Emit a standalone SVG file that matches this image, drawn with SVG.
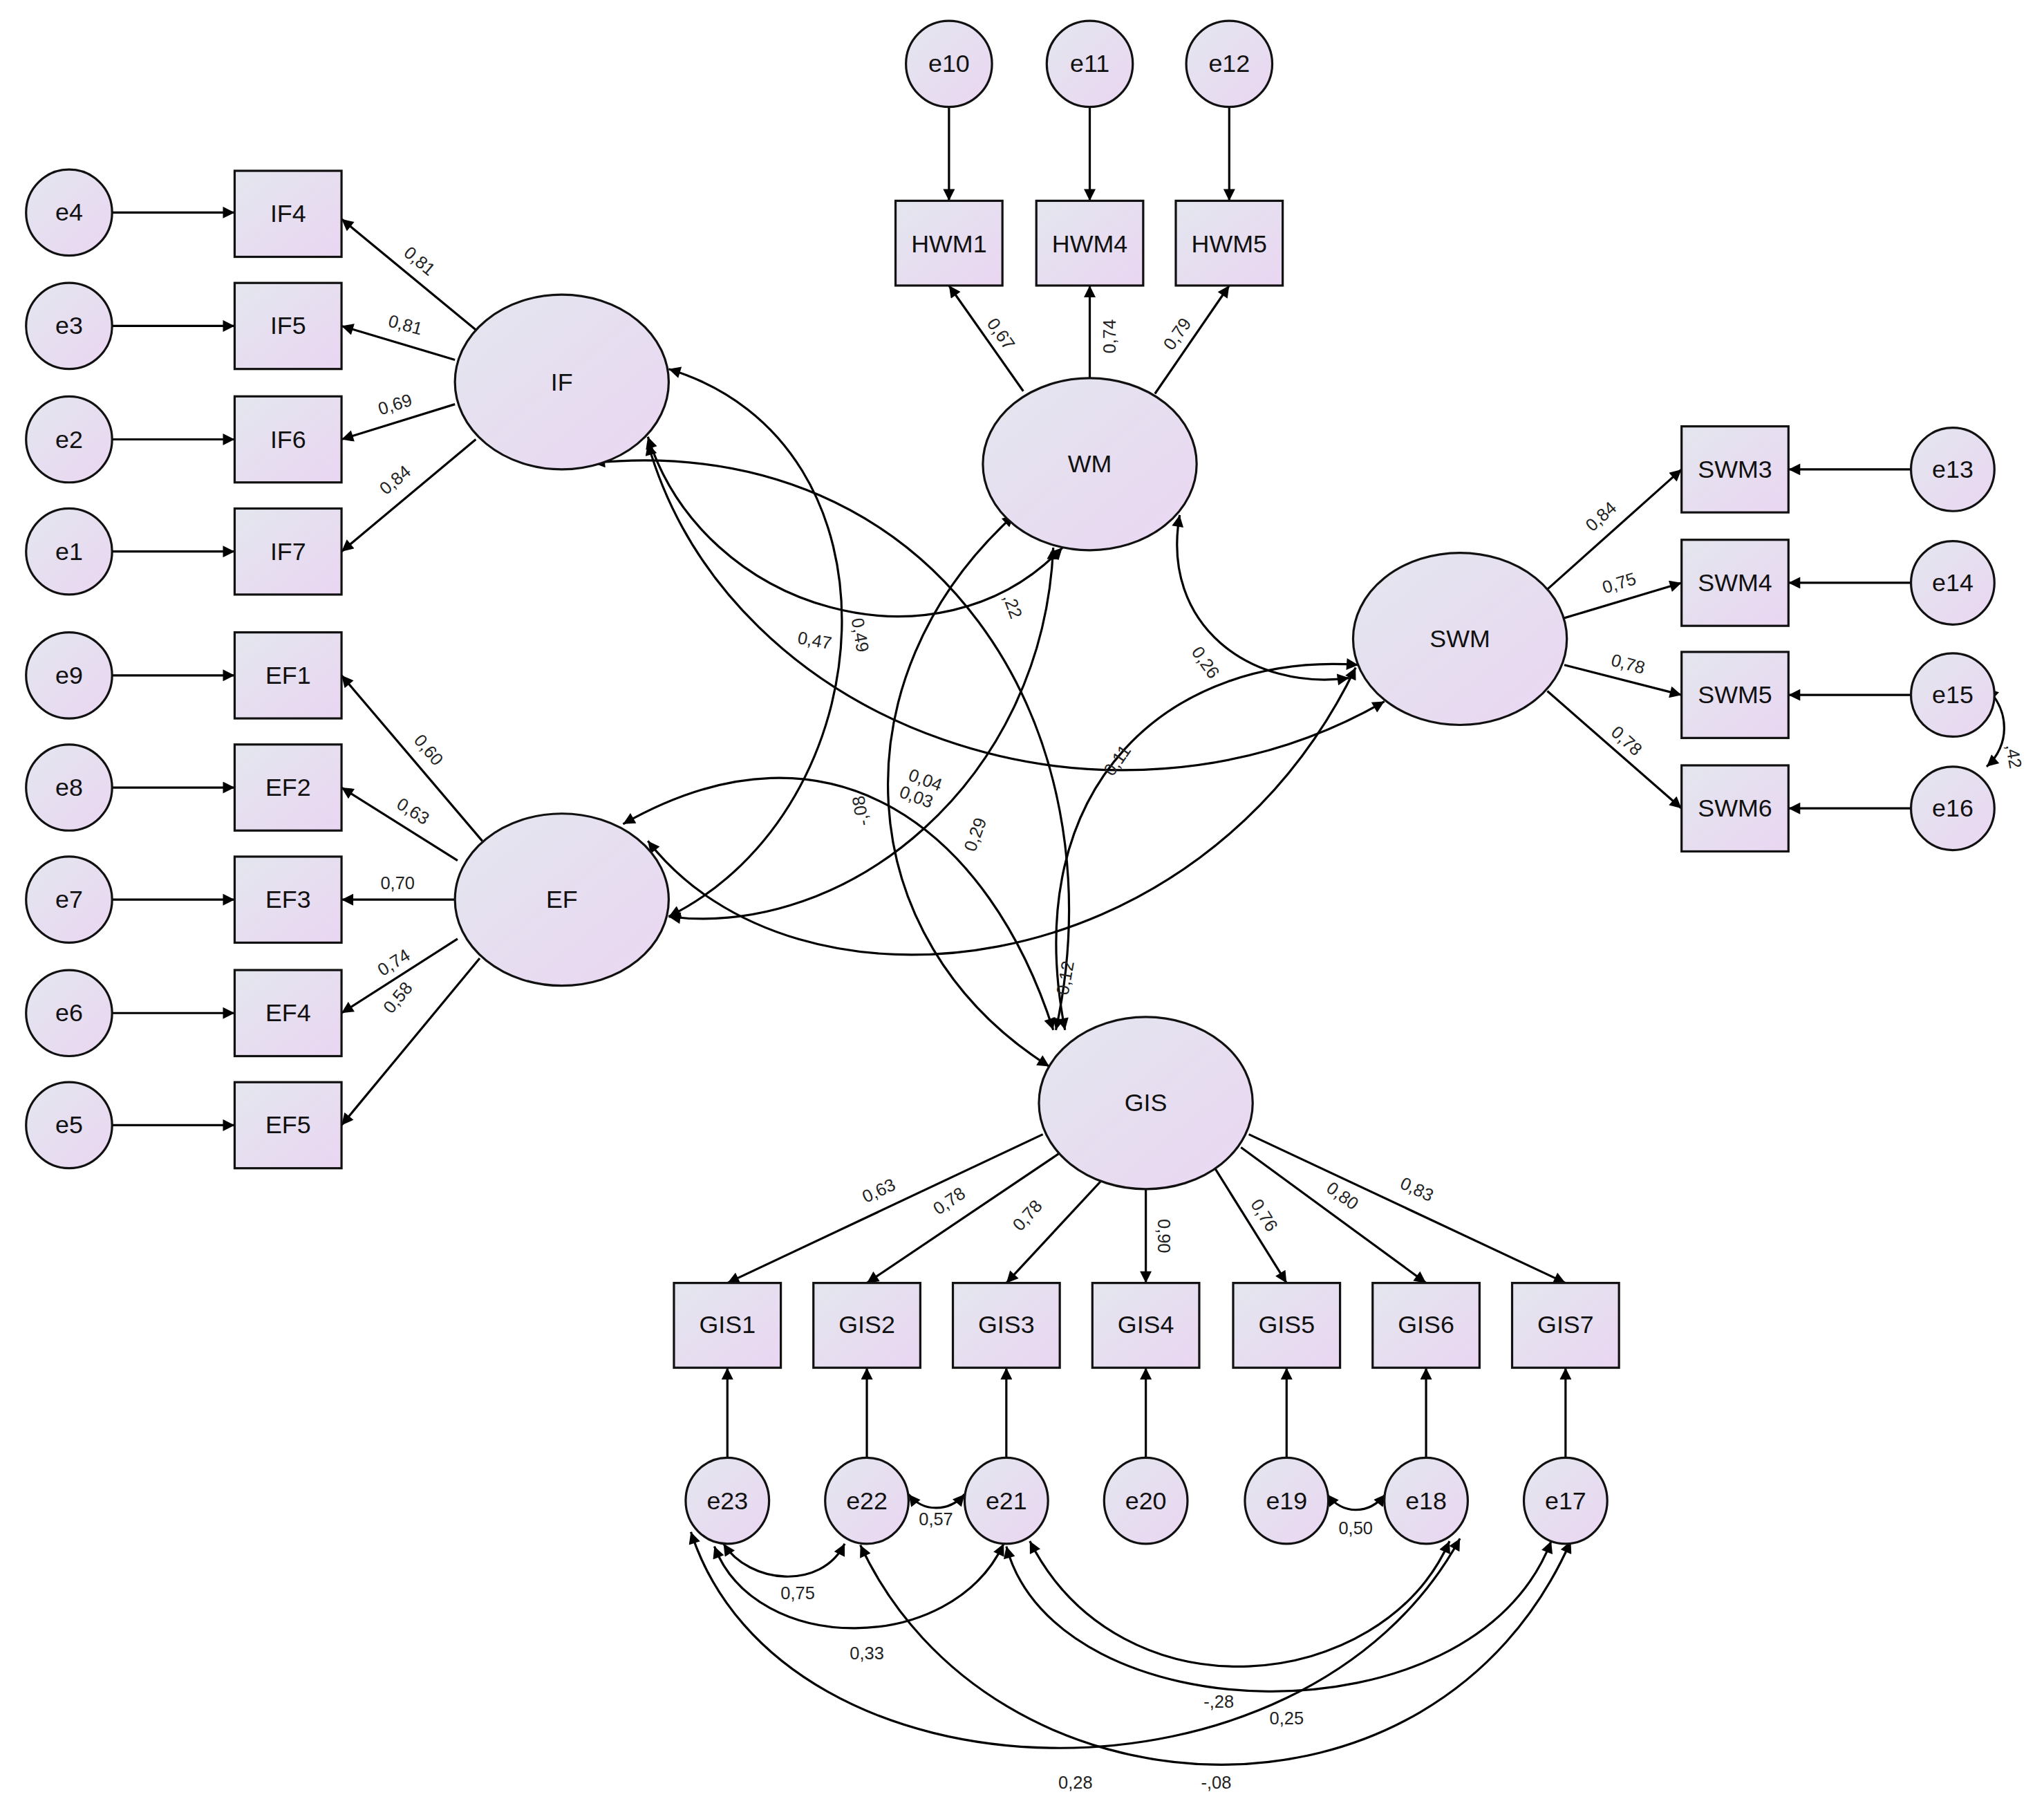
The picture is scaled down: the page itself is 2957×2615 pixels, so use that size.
<svg xmlns="http://www.w3.org/2000/svg" width="2957" height="2615" viewBox="0 0 2957 2615">
<defs>
<linearGradient id="g" x1="0" y1="0" x2="1" y2="1"><stop offset="0" stop-color="#e3e6ee"/><stop offset="1" stop-color="#ead6f2"/></linearGradient>
<marker id="a" viewBox="0 0 10 10" refX="10" refY="5" markerWidth="10" markerHeight="9" markerUnits="userSpaceOnUse" orient="auto-start-reverse"><path d="M0,0 L10,5 L0,10 z" fill="#000"/></marker>
<style>
.n{fill:url(#g);stroke:#111;stroke-width:1.7}
.t{font-family:"Liberation Sans",Arial,sans-serif;font-size:19px;text-anchor:middle;dominant-baseline:central;fill:#111}
.l{font-family:"Liberation Sans",Arial,sans-serif;font-size:13.5px;text-anchor:middle;dominant-baseline:central;fill:#222}
.c path,.c line{fill:none;stroke:#000;stroke-width:1.7}
.s{marker-end:url(#a)}
.d{marker-start:url(#a);marker-end:url(#a)}
</style>
</defs>
<rect width="2957" height="2615" fill="#fff"/>
<g transform="scale(1.8858)">
<g class="c" id="connectors">
<!-- errors to boxes -->
<line class="s" x1="86" y1="163" x2="180" y2="163"/><line class="s" x1="86" y1="250" x2="180" y2="250"/><line class="s" x1="86" y1="337" x2="180" y2="337"/><line class="s" x1="86" y1="423" x2="180" y2="423"/>
<line class="s" x1="86" y1="518" x2="180" y2="518"/><line class="s" x1="86" y1="604" x2="180" y2="604"/><line class="s" x1="86" y1="690" x2="180" y2="690"/><line class="s" x1="86" y1="777" x2="180" y2="777"/><line class="s" x1="86" y1="863" x2="180" y2="863"/>
<line class="s" x1="728" y1="82" x2="728" y2="154"/><line class="s" x1="836" y1="82" x2="836" y2="154"/><line class="s" x1="943" y1="82" x2="943" y2="154"/>
<line class="s" x1="1466" y1="360" x2="1372" y2="360"/><line class="s" x1="1466" y1="447" x2="1372" y2="447"/><line class="s" x1="1466" y1="533" x2="1372" y2="533"/><line class="s" x1="1466" y1="620" x2="1372" y2="620"/>
<line class="s" x1="558" y1="1118" x2="558" y2="1049"/><line class="s" x1="665" y1="1118" x2="665" y2="1049"/><line class="s" x1="772" y1="1118" x2="772" y2="1049"/><line class="s" x1="879" y1="1118" x2="879" y2="1049"/><line class="s" x1="987" y1="1118" x2="987" y2="1049"/><line class="s" x1="1094" y1="1118" x2="1094" y2="1049"/><line class="s" x1="1201" y1="1118" x2="1201" y2="1049"/>
<!-- loadings -->
<line class="s" x1="365" y1="253" x2="262" y2="168"/><line class="s" x1="349" y1="276" x2="262" y2="250"/><line class="s" x1="349" y1="310" x2="262" y2="337"/><line class="s" x1="365" y1="337" x2="262" y2="423"/>
<line class="s" x1="370" y1="645" x2="262" y2="518"/><line class="s" x1="351" y1="660" x2="262" y2="604"/><line class="s" x1="349" y1="690" x2="262" y2="690"/><line class="s" x1="351" y1="720" x2="262" y2="777"/><line class="s" x1="368" y1="735" x2="262" y2="863"/>
<line class="s" x1="785" y1="300" x2="728" y2="219"/><line class="s" x1="836" y1="290" x2="836" y2="219"/><line class="s" x1="886" y1="302" x2="943" y2="219"/>
<line class="s" x1="1187" y1="452" x2="1290" y2="360"/><line class="s" x1="1200" y1="474" x2="1290" y2="447"/><line class="s" x1="1200" y1="510" x2="1290" y2="533"/><line class="s" x1="1187" y1="530" x2="1290" y2="620"/>
<line class="s" x1="800" y1="870" x2="558" y2="984"/><line class="s" x1="812" y1="885" x2="665" y2="984"/><line class="s" x1="850" y1="900" x2="772" y2="984"/><line class="s" x1="879" y1="912" x2="879" y2="984"/><line class="s" x1="932" y1="896" x2="987" y2="984"/><line class="s" x1="952" y1="880" x2="1094" y2="984"/><line class="s" x1="958" y1="870" x2="1201" y2="984"/>
<!-- latent covariances -->
<path class="d" d="M513,283 C700,340 680,620 513,703"/>
<path class="d" d="M497,335 C540,470 720,520 815,420"/>
<path class="d" d="M497,340 C560,560 850,660 1062,538"/>
<path class="d" d="M455,355 C720,330 860,560 810,790"/>
<path class="d" d="M478,632 C640,540 760,640 808,790"/>
<path class="d" d="M808,420 C800,600 650,720 513,703"/>
<path class="d" d="M778,395 C640,520 650,720 805,818"/>
<path class="d" d="M905,395 C890,480 960,530 1035,520"/>
<path class="d" d="M1042,510 C900,500 780,600 817,790"/>
<path class="d" d="M497,645 C610,790 920,760 1040,512"/>
<path class="d" d="M1524,528 C1542,545 1542,572 1524,588"/>
<!-- residual covariances -->
<path class="d" d="M697,1146 C708,1160 728,1160 740,1146"/>
<path class="d" d="M1018,1146 C1030,1162 1050,1162 1063,1146"/>
<path class="d" d="M555,1184 C575,1215 630,1220 648,1184"/>
<path class="d" d="M548,1186 C580,1270 730,1270 770,1184"/>
<path class="d" d="M790,1182 C860,1320 1060,1300 1112,1182"/>
<path class="d" d="M772,1186 C810,1330 1130,1340 1190,1182"/>
<path class="d" d="M530,1175 C600,1390 1000,1400 1120,1180"/>
<path class="d" d="M660,1185 C760,1400 1100,1420 1205,1182"/>
</g>
<!-- labels -->
<g id="labels">
<text class="l" transform="translate(322,200) rotate(40)">0,81</text>
<text class="l" transform="translate(311,249) rotate(15)">0,81</text>
<text class="l" transform="translate(303,310) rotate(-17)">0,69</text>
<text class="l" transform="translate(303,368) rotate(-40)">0,84</text>
<text class="l" transform="translate(329,575) rotate(50)">0,60</text>
<text class="l" transform="translate(317,622) rotate(32)">0,63</text>
<text class="l" transform="translate(305,677)">0,70</text>
<text class="l" transform="translate(302,738) rotate(-32)">0,74</text>
<text class="l" transform="translate(305,765) rotate(-50)">0,58</text>
<text class="l" transform="translate(768,256) rotate(55)">0,67</text>
<text class="l" transform="translate(851,258) rotate(-90)">0,74</text>
<text class="l" transform="translate(903,256) rotate(-55)">0,79</text>
<text class="l" transform="translate(1228,396) rotate(-42)">0,84</text>
<text class="l" transform="translate(1242,447) rotate(-17)">0,75</text>
<text class="l" transform="translate(1249,509) rotate(15)">0,78</text>
<text class="l" transform="translate(1248,568) rotate(42)">0,78</text>
<text class="l" transform="translate(674,913) rotate(-25)">0,63</text>
<text class="l" transform="translate(728,921) rotate(-34)">0,78</text>
<text class="l" transform="translate(788,932) rotate(-48)">0,78</text>
<text class="l" transform="translate(893,948) rotate(90)">0,90</text>
<text class="l" transform="translate(970,932) rotate(58)">0,76</text>
<text class="l" transform="translate(1030,917) rotate(36)">0,80</text>
<text class="l" transform="translate(1087,912) rotate(25)">0,83</text>
<text class="l" transform="translate(660,487) rotate(80)">0,49</text>
<text class="l" transform="translate(625,491) rotate(10)">0,47</text>
<text class="l" transform="translate(777,465) rotate(70)">,22</text>
<text class="l" transform="translate(925,508) rotate(55)">0,26</text>
<text class="l" transform="translate(710,598) rotate(20)">0,04</text>
<text class="l" transform="translate(703,611) rotate(20)">0,03</text>
<text class="l" transform="translate(660,622) rotate(-100)">-,08</text>
<text class="l" transform="translate(748,640) rotate(-70)">0,29</text>
<text class="l" transform="translate(857,583) rotate(-55)">0,11</text>
<text class="l" transform="translate(817,750) rotate(-80)">0,12</text>
<text class="l" transform="translate(1545,580) rotate(80)">,42</text>
<text class="l" x="718" y="1165">0,57</text>
<text class="l" x="1040" y="1172">0,50</text>
<text class="l" x="612" y="1222">0,75</text>
<text class="l" x="665" y="1268">0,33</text>
<text class="l" x="935" y="1305">-,28</text>
<text class="l" x="987" y="1318">0,25</text>
<text class="l" x="825" y="1367">0,28</text>
<text class="l" x="933" y="1367">-,08</text>
</g>
<!-- nodes -->
<g id="e4"><circle class="n" cx="53" cy="163" r="33"/><text class="t" x="53" y="163">e4</text></g>
<g id="e3"><circle class="n" cx="53" cy="250" r="33"/><text class="t" x="53" y="250">e3</text></g>
<g id="e2"><circle class="n" cx="53" cy="337" r="33"/><text class="t" x="53" y="337">e2</text></g>
<g id="e1"><circle class="n" cx="53" cy="423" r="33"/><text class="t" x="53" y="423">e1</text></g>
<g id="e9"><circle class="n" cx="53" cy="518" r="33"/><text class="t" x="53" y="518">e9</text></g>
<g id="e8"><circle class="n" cx="53" cy="604" r="33"/><text class="t" x="53" y="604">e8</text></g>
<g id="e7"><circle class="n" cx="53" cy="690" r="33"/><text class="t" x="53" y="690">e7</text></g>
<g id="e6"><circle class="n" cx="53" cy="777" r="33"/><text class="t" x="53" y="777">e6</text></g>
<g id="e5"><circle class="n" cx="53" cy="863" r="33"/><text class="t" x="53" y="863">e5</text></g>
<g id="IF4"><rect class="n" x="180" y="131" width="82" height="66"/><text class="t" x="221" y="164">IF4</text></g>
<g id="IF5"><rect class="n" x="180" y="217" width="82" height="66"/><text class="t" x="221" y="250">IF5</text></g>
<g id="IF6"><rect class="n" x="180" y="304" width="82" height="66"/><text class="t" x="221" y="337">IF6</text></g>
<g id="IF7"><rect class="n" x="180" y="390" width="82" height="66"/><text class="t" x="221" y="423">IF7</text></g>
<g id="EF1"><rect class="n" x="180" y="485" width="82" height="66"/><text class="t" x="221" y="518">EF1</text></g>
<g id="EF2"><rect class="n" x="180" y="571" width="82" height="66"/><text class="t" x="221" y="604">EF2</text></g>
<g id="EF3"><rect class="n" x="180" y="657" width="82" height="66"/><text class="t" x="221" y="690">EF3</text></g>
<g id="EF4"><rect class="n" x="180" y="744" width="82" height="66"/><text class="t" x="221" y="777">EF4</text></g>
<g id="EF5"><rect class="n" x="180" y="830" width="82" height="66"/><text class="t" x="221" y="863">EF5</text></g>
<g id="IF"><ellipse class="n" cx="431" cy="293" rx="82" ry="67"/><text class="t" x="431" y="293">IF</text></g>
<g id="EF"><ellipse class="n" cx="431" cy="690" rx="82" ry="66"/><text class="t" x="431" y="690">EF</text></g>
<g id="WM"><ellipse class="n" cx="836" cy="356" rx="82" ry="66"/><text class="t" x="836" y="356">WM</text></g>
<g id="SWM"><ellipse class="n" cx="1120" cy="490" rx="82" ry="66"/><text class="t" x="1120" y="490">SWM</text></g>
<g id="GIS"><ellipse class="n" cx="879" cy="846" rx="82" ry="66"/><text class="t" x="879" y="846">GIS</text></g>
<g id="e10"><circle class="n" cx="728" cy="49" r="33"/><text class="t" x="728" y="49">e10</text></g>
<g id="e11"><circle class="n" cx="836" cy="49" r="33"/><text class="t" x="836" y="49">e11</text></g>
<g id="e12"><circle class="n" cx="943" cy="49" r="33"/><text class="t" x="943" y="49">e12</text></g>
<g id="HWM1"><rect class="n" x="687" y="154" width="82" height="65"/><text class="t" x="728" y="187">HWM1</text></g>
<g id="HWM4"><rect class="n" x="795" y="154" width="82" height="65"/><text class="t" x="836" y="187">HWM4</text></g>
<g id="HWM5"><rect class="n" x="902" y="154" width="82" height="65"/><text class="t" x="943" y="187">HWM5</text></g>
<g id="SWM3"><rect class="n" x="1290" y="327" width="82" height="66"/><text class="t" x="1331" y="360">SWM3</text></g>
<g id="SWM4"><rect class="n" x="1290" y="414" width="82" height="66"/><text class="t" x="1331" y="447">SWM4</text></g>
<g id="SWM5"><rect class="n" x="1290" y="500" width="82" height="66"/><text class="t" x="1331" y="533">SWM5</text></g>
<g id="SWM6"><rect class="n" x="1290" y="587" width="82" height="66"/><text class="t" x="1331" y="620">SWM6</text></g>
<g id="e13"><circle class="n" cx="1498" cy="360" r="32"/><text class="t" x="1498" y="360">e13</text></g>
<g id="e14"><circle class="n" cx="1498" cy="447" r="32"/><text class="t" x="1498" y="447">e14</text></g>
<g id="e15"><circle class="n" cx="1498" cy="533" r="32"/><text class="t" x="1498" y="533">e15</text></g>
<g id="e16"><circle class="n" cx="1498" cy="620" r="32"/><text class="t" x="1498" y="620">e16</text></g>
<g id="GIS1"><rect class="n" x="517" y="984" width="82" height="65"/><text class="t" x="558" y="1016">GIS1</text></g>
<g id="GIS2"><rect class="n" x="624" y="984" width="82" height="65"/><text class="t" x="665" y="1016">GIS2</text></g>
<g id="GIS3"><rect class="n" x="731" y="984" width="82" height="65"/><text class="t" x="772" y="1016">GIS3</text></g>
<g id="GIS4"><rect class="n" x="838" y="984" width="82" height="65"/><text class="t" x="879" y="1016">GIS4</text></g>
<g id="GIS5"><rect class="n" x="946" y="984" width="82" height="65"/><text class="t" x="987" y="1016">GIS5</text></g>
<g id="GIS6"><rect class="n" x="1053" y="984" width="82" height="65"/><text class="t" x="1094" y="1016">GIS6</text></g>
<g id="GIS7"><rect class="n" x="1160" y="984" width="82" height="65"/><text class="t" x="1201" y="1016">GIS7</text></g>
<g id="e23"><ellipse class="n" cx="558" cy="1151" rx="32" ry="33"/><text class="t" x="558" y="1151">e23</text></g>
<g id="e22"><ellipse class="n" cx="665" cy="1151" rx="32" ry="33"/><text class="t" x="665" y="1151">e22</text></g>
<g id="e21"><ellipse class="n" cx="772" cy="1151" rx="32" ry="33"/><text class="t" x="772" y="1151">e21</text></g>
<g id="e20"><ellipse class="n" cx="879" cy="1151" rx="32" ry="33"/><text class="t" x="879" y="1151">e20</text></g>
<g id="e19"><ellipse class="n" cx="987" cy="1151" rx="32" ry="33"/><text class="t" x="987" y="1151">e19</text></g>
<g id="e18"><ellipse class="n" cx="1094" cy="1151" rx="32" ry="33"/><text class="t" x="1094" y="1151">e18</text></g>
<g id="e17"><ellipse class="n" cx="1201" cy="1151" rx="32" ry="33"/><text class="t" x="1201" y="1151">e17</text></g>
</g>
</svg>
